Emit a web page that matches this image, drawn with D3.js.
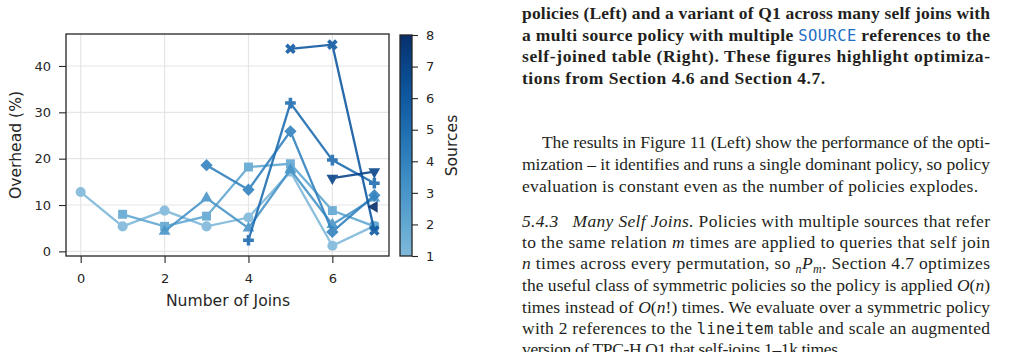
<!DOCTYPE html>
<html>
<head>
<meta charset="utf-8">
<script src="https://cdn.jsdelivr.net/npm/d3@7"></script>
<style>
  body { margin: 0; background: #fff; }
</style>
</head>
<body>
<div id="chart"></div>
<script>
// data: overhead (%) per number of joins, one array per source count
const joins = [0, 1, 2, 3, 4, 5, 6, 7];
const sources = [1, 2, 3, 4, 5, 6, 7, 8];
const overheadS1 = [12.8, 5.4, 8.8, 5.4, 7.3, 17.2, 1.2, 5.5];
const overheadS2 = [8.0, 5.4, 7.6, 18.2, 18.9, 8.8, 5.4];
const overheadS3 = [4.3, 11.5, 5.0, 17.6, 5.8, 11.5];
const overheadS4 = [18.6, 13.3, 25.9, 4.2, 12.1];
const overheadS5 = [2.4, 32.0, 19.7, 14.7];
const overheadS6 = [43.7, 44.6, 4.5];
const overheadS7 = [15.8, 17.2];
const overheadS8 = [9.6];
const markers = ["circle", "square", "triangle", "diamond", "plus", "x", "down", "left"];

const xTicks = [0, 2, 4, 6];
const yTicks = [0, 10, 20, 30, 40];
const barTicks = [1, 2, 3, 4, 5, 6, 7, 8];

// text column on the right of the page (end = right end of the line when not justified)
const captionLines = [
  { html: "policies (Left) and a variant of Q1 across many self joins with", justify: true },
  { html: "a multi source policy with multiple <tspan class='code'>SOURCE</tspan> references to the", justify: true },
  { html: "self-joined table (Right). These figures highlight optimiza-", justify: true },
  { html: "tions from Section 4.6 and Section 4.7.", end: 825 },
];
const bodyLines = [
  { html: "The results in Figure 11 (Left) show the performance of the opti-", justify: true, indent: true },
  { html: "mization – it identifies and runs a single dominant policy, so policy", justify: true },
  { html: "evaluation is constant even as the number of policies explodes.", end: 978 },
  { html: "<tspan font-style='italic'>5.4.3</tspan><tspan dx='14' font-style='italic'>Many Self Joins.</tspan> Policies with multiple sources that refer", justify: true },
  { html: "to the same relation <tspan font-style='italic'>m</tspan> times are applied to queries that self join", justify: true },
  { html: "<tspan font-style='italic'>n</tspan> times across every permutation, so <tspan font-style='italic' font-size='12' dy='4'>n</tspan><tspan font-style='italic' dy='-4'>P</tspan><tspan font-style='italic' font-size='12' dy='4'>m</tspan><tspan dy='-4'>. Section 4.7 optimizes</tspan>", justify: true },
  { html: "the useful class of symmetric policies so the policy is applied <tspan font-style='italic'>O</tspan>(<tspan font-style='italic'>n</tspan>)", justify: true },
  { html: "times instead of <tspan font-style='italic'>O</tspan>(<tspan font-style='italic'>n</tspan>!) times. We evaluate over a symmetric policy", justify: true },
  { html: "with 2 references to the <tspan class='mono'>lineitem</tspan> table and scale an augmented", justify: true },
  { html: "version of TPC-H Q1 that self-joins 1–1k times.", end: 842 },
];

const series = [overheadS1, overheadS2, overheadS3, overheadS4, overheadS5, overheadS6, overheadS7, overheadS8]
  .map((vals, i) => ({
    sources: sources[i],
    marker: markers[i],
    points: vals.map((v, j) => ({ joins: joins[i + j], value: v })),
  }));

const dimensions = {
  width: 1011,
  height: 352,
  plot: { left: 66, right: 389, top: 34, bottom: 256 },
  bar: { left: 400, width: 12, top: 35, bottom: 256 },
};

const svg = d3
  .select("#chart")
  .append("svg")
  .attr("width", dimensions.width)
  .attr("height", dimensions.height)
  .style("display", "block");

//Scales ==========
const xScale = d3.scaleLinear().domain([-0.35, 7.35]).range([dimensions.plot.left, dimensions.plot.right]);
const yScale = d3.scaleLinear().domain([-1.0, 46.9]).range([dimensions.plot.bottom, dimensions.plot.top]);
const colorT = d3.scaleLinear().domain([1, 8]).range([0.45, 1.0]);
const colorScale = (s) => d3.interpolateBlues(colorT(s));

const ctr = svg.append("g").classed("plot", true);

// grid
ctr.append("g")
  .selectAll("line")
  .data(xTicks)
  .join("line")
  .attr("x1", (d) => xScale(d))
  .attr("x2", (d) => xScale(d))
  .attr("y1", dimensions.plot.top)
  .attr("y2", dimensions.plot.bottom)
  .attr("stroke", "#e5e5e5")
  .attr("stroke-width", 1.2);

ctr.append("g")
  .selectAll("line")
  .data(yTicks)
  .join("line")
  .attr("x1", dimensions.plot.left)
  .attr("x2", dimensions.plot.right)
  .attr("y1", (d) => yScale(d))
  .attr("y2", (d) => yScale(d))
  .attr("stroke", "#e5e5e5")
  .attr("stroke-width", 1.2);

// axes
const xAxis = ctr.append("g")
  .attr("transform", `translate(0,${dimensions.plot.bottom})`)
  .call(d3.axisBottom(xScale).tickValues(xTicks).tickSize(7).tickPadding(11));
const yAxis = ctr.append("g")
  .attr("transform", `translate(${dimensions.plot.left},0)`)
  .call(d3.axisLeft(yScale).tickValues(yTicks).tickSize(7).tickPadding(8));

[xAxis, yAxis].forEach((ax) => {
  ax.attr("font-size", null).attr("font-family", null);
  ax.select(".domain").remove();
  ax.selectAll("line").attr("stroke", "#262626").attr("stroke-width", 1.1);
  ax.selectAll("text")
    .attr("fill", "#262626")
    .attr("font-family", "DejaVu Sans")
    .attr("font-size", 13);
});

// markers
const symbolFor = (m) => {
  if (m === "circle") return { path: d3.symbol(d3.symbolCircle, 80)(), rot: 0 };
  if (m === "square") return { path: d3.symbol(d3.symbolSquare, 80)(), rot: 0 };
  if (m === "triangle") return { path: d3.symbol(d3.symbolTriangle, 60)(), rot: 0 };
  if (m === "diamond") return { path: d3.symbol(d3.symbolSquare, 76)(), rot: 45 };
  if (m === "plus") return { path: d3.symbol(d3.symbolCross, 64)(), rot: 0 };
  if (m === "x") return { path: d3.symbol(d3.symbolCross, 70)(), rot: 45 };
  if (m === "down") return { path: d3.symbol(d3.symbolTriangle, 60)(), rot: 180 };
  return { path: d3.symbol(d3.symbolTriangle, 60)(), rot: -90 };
};

const line = d3.line()
  .x((d) => xScale(d.joins))
  .y((d) => yScale(d.value));

const seriesGroups = ctr.append("g")
  .selectAll("g")
  .data(series)
  .join("g")
  .attr("opacity", 0.9);

seriesGroups.append("path")
  .attr("d", (d) => line(d.points))
  .attr("fill", "none")
  .attr("stroke", (d) => colorScale(d.sources))
  .attr("stroke-width", 2.3);

seriesGroups.each(function (s) {
  const sym = symbolFor(s.marker);
  d3.select(this)
    .selectAll("path.marker")
    .data(s.points)
    .join("path")
    .classed("marker", true)
    .attr("d", sym.path)
    .attr("transform", (d) => `translate(${xScale(d.joins)},${yScale(d.value)}) rotate(${sym.rot})`)
    .attr("fill", colorScale(s.sources));
});

// frame
ctr.append("rect")
  .attr("x", dimensions.plot.left)
  .attr("y", dimensions.plot.top)
  .attr("width", dimensions.plot.right - dimensions.plot.left)
  .attr("height", dimensions.plot.bottom - dimensions.plot.top)
  .attr("fill", "none")
  .attr("stroke", "#262626")
  .attr("stroke-width", 1.3);

// axis labels
ctr.append("text")
  .text("Number of Joins")
  .attr("x", 228)
  .attr("y", 306)
  .attr("text-anchor", "middle")
  .attr("fill", "#262626")
  .attr("font-family", "DejaVu Sans")
  .attr("font-size", 15.6);

ctr.append("text")
  .text("Overhead (%)")
  .attr("transform", `translate(21,${(dimensions.plot.top + dimensions.plot.bottom) / 2}) rotate(-90)`)
  .attr("text-anchor", "middle")
  .attr("fill", "#262626")
  .attr("font-family", "DejaVu Sans")
  .attr("font-size", 15.6);

//Colorbar =========
const barScale = d3.scaleLinear().domain([1, 8]).range([dimensions.bar.bottom, dimensions.bar.top]);
const grad = svg.append("defs")
  .append("linearGradient")
  .attr("id", "cbar")
  .attr("x1", 0).attr("x2", 0)
  .attr("y1", 1).attr("y2", 0);
grad.selectAll("stop")
  .data(d3.range(0, 1.0001, 0.05))
  .join("stop")
  .attr("offset", (d) => d)
  .attr("stop-color", (d) => colorScale(1 + d * 7));

const bar = svg.append("g").classed("colorbar", true);
bar.append("rect")
  .attr("x", dimensions.bar.left)
  .attr("y", dimensions.bar.top)
  .attr("width", dimensions.bar.width)
  .attr("height", dimensions.bar.bottom - dimensions.bar.top)
  .attr("fill", "url(#cbar)")
  .attr("stroke", "#262626")
  .attr("stroke-width", 1.3);

const barAxis = bar.append("g")
  .attr("transform", `translate(${dimensions.bar.left + dimensions.bar.width},0)`)
  .call(d3.axisRight(barScale).tickValues(barTicks).tickFormat(d3.format("d")).tickSize(6).tickPadding(8));
barAxis.attr("font-size", null).attr("font-family", null);
barAxis.select(".domain").remove();
barAxis.selectAll("line").attr("stroke", "#262626").attr("stroke-width", 1.1);
barAxis.selectAll("text")
  .attr("fill", "#262626")
  .attr("font-family", "DejaVu Sans")
  .attr("font-size", 13);

bar.append("text")
  .text("Sources")
  .attr("transform", `translate(457,${(dimensions.bar.top + dimensions.bar.bottom) / 2}) rotate(-90)`)
  .attr("text-anchor", "middle")
  .attr("fill", "#262626")
  .attr("font-family", "DejaVu Sans")
  .attr("font-size", 15.6);

//Text column =========
const textCol = { left: 522, right: 990, indent: 20 };
const captionBaselines = [19, 41, 62, 84];
const bodyBaselines = [148, 170, 192, 227, 248, 269, 291, 313, 334, 355];

const writeLines = (lines, baselines, bold) => {
  lines.forEach((l, i) => {
    const x0 = textCol.left + (l.indent ? textCol.indent : 0);
    const x1 = l.justify ? textCol.right : l.end;
    svg.append("text")
      .attr("x", x0)
      .attr("y", baselines[i])
      .attr("fill", "#231f20")
      .attr("font-family", "Liberation Serif")
      .attr("font-size", 17.5)
      .attr("font-weight", bold ? "bold" : "normal")
      .html(l.html)
      .attr("textLength", x1 - x0)
      .attr("lengthAdjust", "spacing");
  });
};
writeLines(captionLines, captionBaselines, true);
writeLines(bodyLines, bodyBaselines, false);

svg.selectAll("tspan.code")
  .attr("fill", "#1f6fc5")
  .attr("font-family", "DejaVu Sans Mono")
  .attr("font-weight", "normal")
  .attr("font-size", 15.5);
svg.selectAll("tspan.mono")
  .attr("font-family", "DejaVu Sans Mono")
  .attr("font-size", 15.5);
</script>
</body>
</html>
